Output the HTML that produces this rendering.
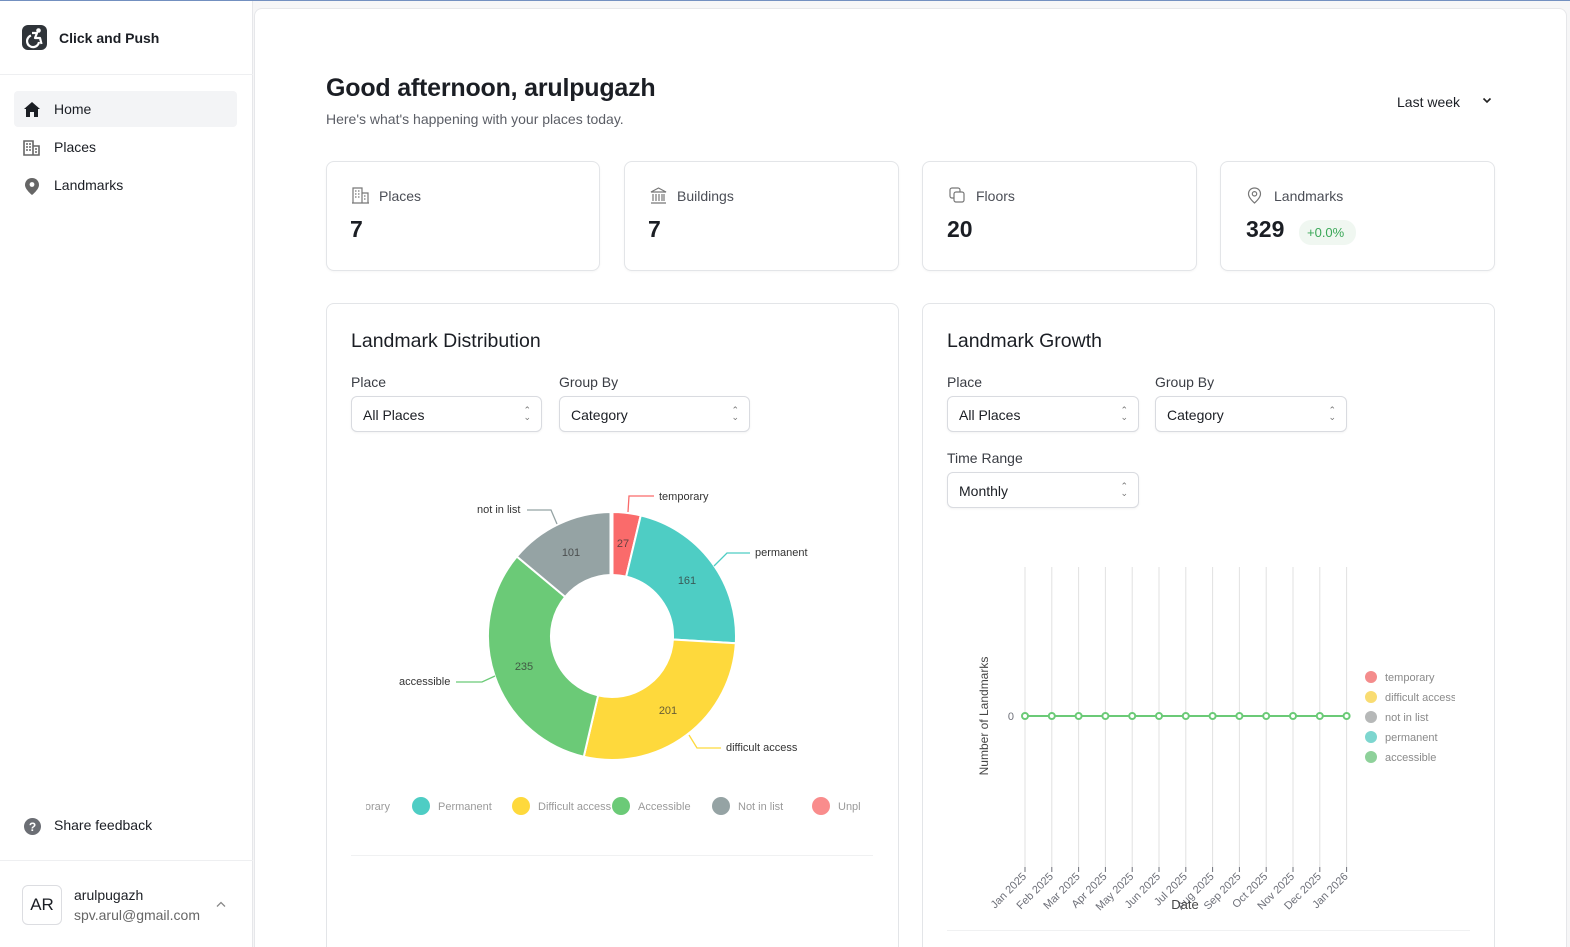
<!DOCTYPE html>
<html><head><meta charset="utf-8">
<style>
*{box-sizing:border-box;margin:0;padding:0}
html,body{width:1570px;height:947px;overflow:hidden;background:#f6f6f7;font-family:"Liberation Sans",sans-serif;color:#1b1e24}
#wrap{position:relative;width:1570px;height:947px;overflow:hidden;background:#f6f6f7}
.abs{position:absolute}
#topline{position:absolute;left:0;top:0;width:1570px;height:1px;background:#7390c0}
#side{position:absolute;left:0;top:1px;width:253px;height:946px;background:#fff;border-right:1px solid #e6e7ea}
#main{position:absolute;left:254px;top:8px;width:1313px;height:939px;background:#fff;border:1px solid #e6e7ea;border-bottom:none;border-radius:8px 8px 0 0}
.t{position:absolute;white-space:nowrap;line-height:1}
.card{position:absolute;background:#fff;border:1px solid #e3e5e8;border-radius:8px;box-shadow:0 1px 2px rgba(0,0,0,0.04)}
.ccard{position:absolute;background:#fff;border:1px solid #e3e5e8;border-bottom:none;border-radius:8px 8px 0 0;height:644px}
.sel{position:absolute;height:36px;border:1px solid #d9dbe0;border-radius:6px;background:#fff;box-shadow:0 1px 2px rgba(0,0,0,0.05)}
.sel span{position:absolute;left:11px;top:10px;font-size:14px;color:#1b1e24}
.sel i{position:absolute;right:10px;top:10px;font-style:normal;font-size:9px;line-height:7px;color:#777;text-align:center}
.lbl{font-size:14px;color:#3a3d44}
</style></head><body><div id="wrap">
<div id="topline"></div>
<div id="side">
  <svg class="abs" style="left:22px;top:24px" width="25" height="25" viewBox="0 0 25 25">
    <rect width="25" height="25" rx="6" fill="#2f3439"/>
    <circle cx="16.5" cy="5.5" r="2.3" fill="#fff"/>
    <path d="M9 10.5 A6 6 0 1 0 17 17" stroke="#fff" stroke-width="2.2" fill="none"/>
    <path d="M10 8 L15 8 L13 13 L18 13 L19.5 19" stroke="#fff" stroke-width="2.2" fill="none" stroke-linejoin="round"/>
  </svg>
  <div class="t" style="left:59px;top:30px;font-size:14px;font-weight:bold;color:#1b1e24">Click and Push</div>
  <div class="abs" style="left:0;top:73px;width:253px;height:1px;background:#eeeff1"></div>
  <div class="abs" style="left:14px;top:90px;width:223px;height:36px;background:#f3f4f6;border-radius:4px"></div>
  <svg class="abs" style="left:24px;top:101px" width="16" height="15" viewBox="0 0 16 15"><path d="M8 0 L16 7 L14 7 L14 15 L10 15 L10 10 L6 10 L6 15 L2 15 L2 7 L0 7Z" fill="#1b1e24"/></svg>
  <div class="t" style="left:54px;top:101px;font-size:14px">Home</div>
  <svg class="abs" style="left:23px;top:139px" width="18" height="16" viewBox="0 0 18 16"><path d="M1 1h9v14H1zM10 6h6v9h-6" fill="none" stroke="#666" stroke-width="1.6"/><path d="M3 4h2M6 4h2M3 7h2M6 7h2M3 10h2M6 10h2M12 9h2M12 12h2" stroke="#666" stroke-width="1.5"/></svg>
  <div class="t" style="left:54px;top:139px;font-size:14px">Places</div>
  <svg class="abs" style="left:25px;top:177px" width="14" height="17" viewBox="0 0 14 17"><path d="M7 0C3 0 0 3 0 7c0 4.5 7 10 7 10s7-5.5 7-10C14 3 11 0 7 0z" fill="#666"/><circle cx="7" cy="6.5" r="2.4" fill="#fff"/></svg>
  <div class="t" style="left:54px;top:177px;font-size:14px">Landmarks</div>
  <svg class="abs" style="left:24px;top:817px" width="17" height="17" viewBox="0 0 17 17"><circle cx="8.5" cy="8.5" r="8.5" fill="#6b6e74"/><text x="8.5" y="13" text-anchor="middle" font-size="12" font-weight="bold" fill="#fff" font-family="Liberation Sans">?</text></svg>
  <div class="t" style="left:54px;top:817px;font-size:14px">Share feedback</div>
  <div class="abs" style="left:0;top:859px;width:253px;height:1px;background:#eeeff1"></div>
  <div class="abs" style="left:22px;top:884px;width:40px;height:40px;border:1px solid #dcdde1;border-radius:6px;font-size:17px;text-align:center;line-height:38px;color:#1b1e24">AR</div>
  <div class="t" style="left:74px;top:887px;font-size:14px">arulpugazh</div>
  <div class="t" style="left:74px;top:907px;font-size:14px;color:#666">spv.arul@gmail.com</div>
  <svg class="abs" style="left:216px;top:900px" width="10" height="7" viewBox="0 0 10 7"><path d="M1 5.5 L5 1.5 L9 5.5" stroke="#888" stroke-width="1.3" fill="none"/></svg>
</div>
<div id="main"></div>

<div class="t" style="left:326px;top:76px;font-size:25px;font-weight:bold;color:#1b1e24;letter-spacing:-0.2px">Good afternoon, arulpugazh</div>
<div class="t" style="left:326px;top:112px;font-size:14px;color:#5b5e66">Here's what's happening with your places today.</div>
<div class="t" style="left:1397px;top:95px;font-size:14px;color:#1b1e24">Last week</div>
<svg class="abs" style="left:1482px;top:97px" width="10" height="7" viewBox="0 0 10 7"><path d="M1.5 1.5 L5 5 L8.5 1.5" stroke="#222" stroke-width="1.6" fill="none"/></svg>

<div class="card" style="left:326px;top:161px;width:274px;height:110px"></div>
<div class="card" style="left:624px;top:161px;width:275px;height:110px"></div>
<div class="card" style="left:922px;top:161px;width:275px;height:110px"></div>
<div class="card" style="left:1220px;top:161px;width:275px;height:110px"></div>

<svg class="abs" style="left:352px;top:187px" width="17" height="17" viewBox="0 0 17 17"><path d="M1 16V1h9v15M10 6h6v10M0 16h17" fill="none" stroke="#777" stroke-width="1.2"/><path d="M3 4h1.5M6 4h1.5M3 7h1.5M6 7h1.5M3 10h1.5M6 10h1.5M12 9h1.5M12 12h1.5" stroke="#777" stroke-width="1.2"/></svg>
<div class="t" style="left:379px;top:189px;font-size:14px;color:#4b4e56">Places</div>
<div class="t" style="left:350px;top:218px;font-size:23px;font-weight:bold">7</div>

<svg class="abs" style="left:650px;top:187px" width="17" height="17" viewBox="0 0 17 17"><path d="M1 5L8.5 1L16 5H1zM2 16h13M1 16h15M3 7v7M6 7v7M9 7v7M12 7v7M14 7v7" fill="none" stroke="#777" stroke-width="1.2"/></svg>
<div class="t" style="left:677px;top:189px;font-size:14px;color:#4b4e56">Buildings</div>
<div class="t" style="left:648px;top:218px;font-size:23px;font-weight:bold">7</div>

<svg class="abs" style="left:949px;top:187px" width="17" height="17" viewBox="0 0 17 17"><rect x="1" y="1" width="10" height="10" rx="2" fill="none" stroke="#777" stroke-width="1.2"/><rect x="5" y="5" width="10" height="10" rx="2" fill="#fff" stroke="#777" stroke-width="1.2"/></svg>
<div class="t" style="left:976px;top:189px;font-size:14px;color:#4b4e56">Floors</div>
<div class="t" style="left:947px;top:218px;font-size:23px;font-weight:bold">20</div>

<svg class="abs" style="left:1247px;top:187px" width="15" height="17" viewBox="0 0 15 17"><path d="M7.5 1C4 1 1.5 3.5 1.5 7c0 4 6 9 6 9s6-5 6-9C13.5 3.5 11 1 7.5 1z" fill="none" stroke="#777" stroke-width="1.2"/><circle cx="7.5" cy="6.8" r="2.2" fill="none" stroke="#777" stroke-width="1.2"/></svg>
<div class="t" style="left:1274px;top:189px;font-size:14px;color:#4b4e56">Landmarks</div>
<div class="t" style="left:1246px;top:218px;font-size:23px;font-weight:bold">329</div>
<div class="abs" style="left:1299px;top:220px;width:57px;height:25px;border-radius:12px;background:#f0f7f1"></div>
<div class="t" style="left:1307px;top:226px;font-size:13px;color:#3aa757">+0.0%</div>

<div class="ccard" style="left:326px;top:303px;width:573px"></div>
<div class="ccard" style="left:922px;top:303px;width:573px"></div>

<div class="t" style="left:351px;top:332px;font-size:19.5px;color:#1b1e24">Landmark Distribution</div>
<div class="t lbl" style="left:351px;top:375px">Place</div>
<div class="t lbl" style="left:559px;top:375px">Group By</div>
<div class="sel" style="left:351px;top:396px;width:191px"><span>All Places</span><i>&#8963;<br>&#8964;</i></div>
<div class="sel" style="left:559px;top:396px;width:191px"><span>Category</span><i>&#8963;<br>&#8964;</i></div>

<div class="t" style="left:947px;top:332px;font-size:19.5px;color:#1b1e24">Landmark Growth</div>
<div class="t lbl" style="left:947px;top:375px">Place</div>
<div class="t lbl" style="left:1155px;top:375px">Group By</div>
<div class="sel" style="left:947px;top:396px;width:192px"><span>All Places</span><i>&#8963;<br>&#8964;</i></div>
<div class="sel" style="left:1155px;top:396px;width:192px"><span>Category</span><i>&#8963;<br>&#8964;</i></div>
<div class="t lbl" style="left:947px;top:451px">Time Range</div>
<div class="sel" style="left:947px;top:472px;width:192px"><span>Monthly</span><i>&#8963;<br>&#8964;</i></div>

<svg class="abs" style="left:0;top:0" width="1570" height="947" viewBox="0 0 1570 947" font-family="Liberation Sans, sans-serif">
  <defs><clipPath id="lc"><rect x="366" y="790" width="494" height="35"/></clipPath></defs>
  <g stroke="#fff" stroke-width="2" stroke-linejoin="round">
    <path d="M612.5 512 A124 124 0 0 1 640.76 515.4 L626.15 576.66 A61 61 0 0 0 612.5 575 Z" fill="#fa6b6b"/>
    <path d="M640.76 515.4 A124 124 0 0 1 735.79 643.25 L672.9 639.56 A61 61 0 0 0 626.15 576.66 Z" fill="#4ecdc4"/>
    <path d="M735.79 643.25 A124 124 0 0 1 583.77 756.74 L598.11 695.4 A61 61 0 0 0 672.9 639.56 Z" fill="#fed93c"/>
    <path d="M583.77 756.74 A124 124 0 0 1 516.81 556.54 L565.17 596.91 A61 61 0 0 0 598.11 695.4 Z" fill="#6bca77"/>
    <path d="M516.81 556.54 A124 124 0 0 1 610.5 512 L610.5 575 A61 61 0 0 0 565.17 596.91 Z" fill="#95a3a4"/>
  </g>
  <g font-size="11" text-anchor="middle" fill="#333" fill-opacity="0.75">
    <text x="571" y="556">101</text><text x="623" y="547">27</text><text x="687" y="584">161</text>
    <text x="524" y="670">235</text><text x="668" y="714">201</text>
  </g>
  <g fill="none" stroke-width="1.3">
    <path d="M628 512 L629 496 L654 496" stroke="#fa6b6b"/>
    <path d="M527 510 L551 510 L557 524" stroke="#95a3a4"/>
    <path d="M714 566 L727 553 L750 553" stroke="#4ecdc4"/>
    <path d="M456 682 L482 682 L495 676" stroke="#6bca77"/>
    <path d="M689 735 L697 748 L721 748" stroke="#fed93c"/>
  </g>
  <g font-size="11" fill="#333">
    <text x="659" y="500">temporary</text>
    <text x="477" y="513">not in list</text>
    <text x="755" y="556">permanent</text>
    <text x="399" y="685">accessible</text>
    <text x="726" y="751">difficult access</text>
  </g>
  <g clip-path="url(#lc)" font-size="11" fill="#9a9a9a">
    <circle cx="321" cy="806" r="9" fill="#fa6b6b"/><text x="338" y="810">Temporary</text>
    <circle cx="421" cy="806" r="9" fill="#4ecdc4"/><text x="438" y="810">Permanent</text>
    <circle cx="521" cy="806" r="9" fill="#fed93c"/><text x="538" y="810">Difficult access</text>
    <circle cx="621" cy="806" r="9" fill="#6bca77"/><text x="638" y="810">Accessible</text>
    <circle cx="721" cy="806" r="9" fill="#95a3a4"/><text x="738" y="810">Not in list</text>
    <circle cx="821" cy="806" r="9" fill="#f98c8c"/><text x="838" y="810">Unplaced</text>
  </g>
  <line x1="351" y1="855.5" x2="873" y2="855.5" stroke="#f0f1f2" stroke-width="1"/>
  <g stroke="#e2e2e2" stroke-width="1">
    <line x1="1025" y1="567" x2="1025" y2="867"/><line x1="1051.8" y1="567" x2="1051.8" y2="867"/>
    <line x1="1078.6" y1="567" x2="1078.6" y2="867"/><line x1="1105.4" y1="567" x2="1105.4" y2="867"/>
    <line x1="1132.2" y1="567" x2="1132.2" y2="867"/><line x1="1159" y1="567" x2="1159" y2="867"/>
    <line x1="1185.8" y1="567" x2="1185.8" y2="867"/><line x1="1212.6" y1="567" x2="1212.6" y2="867"/>
    <line x1="1239.4" y1="567" x2="1239.4" y2="867"/><line x1="1266.2" y1="567" x2="1266.2" y2="867"/>
    <line x1="1293" y1="567" x2="1293" y2="867"/><line x1="1319.8" y1="567" x2="1319.8" y2="867"/>
    <line x1="1346.6" y1="567" x2="1346.6" y2="867"/>
  </g>
  <g stroke="#6e7079" stroke-width="1">
    <line x1="1025" y1="867" x2="1025" y2="872"/><line x1="1051.8" y1="867" x2="1051.8" y2="872"/>
    <line x1="1078.6" y1="867" x2="1078.6" y2="872"/><line x1="1105.4" y1="867" x2="1105.4" y2="872"/>
    <line x1="1132.2" y1="867" x2="1132.2" y2="872"/><line x1="1159" y1="867" x2="1159" y2="872"/>
    <line x1="1185.8" y1="867" x2="1185.8" y2="872"/><line x1="1212.6" y1="867" x2="1212.6" y2="872"/>
    <line x1="1239.4" y1="867" x2="1239.4" y2="872"/><line x1="1266.2" y1="867" x2="1266.2" y2="872"/>
    <line x1="1293" y1="867" x2="1293" y2="872"/><line x1="1319.8" y1="867" x2="1319.8" y2="872"/>
    <line x1="1346.6" y1="867" x2="1346.6" y2="872"/>
  </g>
  <line x1="1025" y1="716" x2="1346.6" y2="716" stroke="#6bca77" stroke-width="2"/>
  <g fill="#fff" stroke="#6bca77" stroke-width="2">
    <circle cx="1025" cy="716" r="3"/><circle cx="1051.8" cy="716" r="3"/><circle cx="1078.6" cy="716" r="3"/>
    <circle cx="1105.4" cy="716" r="3"/><circle cx="1132.2" cy="716" r="3"/><circle cx="1159" cy="716" r="3"/>
    <circle cx="1185.8" cy="716" r="3"/><circle cx="1212.6" cy="716" r="3"/><circle cx="1239.4" cy="716" r="3"/>
    <circle cx="1266.2" cy="716" r="3"/><circle cx="1293" cy="716" r="3"/><circle cx="1319.8" cy="716" r="3"/>
    <circle cx="1346.6" cy="716" r="3"/>
  </g>
  <text x="1014" y="720" font-size="11" fill="#6e7079" text-anchor="end">0</text>
  <text transform="translate(988,716) rotate(-90)" font-size="12" fill="#464646" text-anchor="middle">Number of Landmarks</text>
  <g font-size="11" fill="#6e7079" text-anchor="end">
    <text transform="translate(1027,877) rotate(-45)">Jan 2025</text>
    <text transform="translate(1053.8,877) rotate(-45)">Feb 2025</text>
    <text transform="translate(1080.6,877) rotate(-45)">Mar 2025</text>
    <text transform="translate(1107.4,877) rotate(-45)">Apr 2025</text>
    <text transform="translate(1134.2,877) rotate(-45)">May 2025</text>
    <text transform="translate(1161,877) rotate(-45)">Jun 2025</text>
    <text transform="translate(1187.8,877) rotate(-45)">Jul 2025</text>
    <text transform="translate(1214.6,877) rotate(-45)">Aug 2025</text>
    <text transform="translate(1241.4,877) rotate(-45)">Sep 2025</text>
    <text transform="translate(1268.2,877) rotate(-45)">Oct 2025</text>
    <text transform="translate(1295,877) rotate(-45)">Nov 2025</text>
    <text transform="translate(1321.8,877) rotate(-45)">Dec 2025</text>
    <text transform="translate(1348.6,877) rotate(-45)">Jan 2026</text>
  </g>
  <text x="1185" y="909" font-size="13" fill="#464646" text-anchor="middle">Date</text>
  <g font-size="11" fill="#8a8a8a">
    <circle cx="1371" cy="677" r="6" fill="#f48c8c"/><text x="1385" y="681">temporary</text>
    <circle cx="1371" cy="697" r="6" fill="#f9dc72"/><text x="1385" y="701">difficult access</text>
    <circle cx="1371" cy="717" r="6" fill="#b6b8b8"/><text x="1385" y="721">not in list</text>
    <circle cx="1371" cy="737" r="6" fill="#7dd6cf"/><text x="1385" y="741">permanent</text>
    <circle cx="1371" cy="757" r="6" fill="#8ed19a"/><text x="1385" y="761">accessible</text>
  </g>
  <rect x="1455" y="688" width="20" height="16" fill="#fff"/>
  <line x1="947" y1="930.5" x2="1470" y2="930.5" stroke="#f0f1f2" stroke-width="1"/>
</svg>
</div></body></html>
